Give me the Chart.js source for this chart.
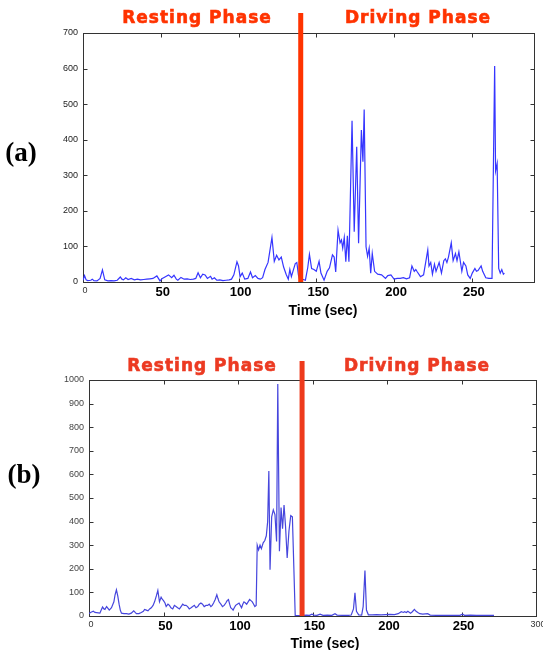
<!DOCTYPE html>
<html>
<head>
<meta charset="utf-8">
<script src="https://cdn.jsdelivr.net/npm/chart.js@4.4.1/dist/chart.umd.min.js"></script>
<style>
  html, body { margin: 0; padding: 0; background: #fff; }
  #page { position: relative; width: 543px; height: 650px; overflow: hidden; background: #fff; }
  .wrap { position: absolute; left: 0; width: 543px; height: 325px; }
  .txt { position: absolute; transform: translate(-50%, -50%); white-space: nowrap; line-height: 1; }
  .phase { font-family: "DejaVu Sans", sans-serif; font-weight: bold; font-size: 17px; letter-spacing: 1px; -webkit-text-stroke: 0.6px currentColor; }
  .panel { font-family: "Liberation Serif", "Times New Roman", serif; font-weight: bold; font-size: 27px; }
  .axt { font-family: "Liberation Sans", Arial, sans-serif; font-weight: bold; font-size: 14px; color: #000; }
</style>
</head>
<body>
<div id="page">
  <div class="wrap" style="top:0"><canvas id="chartA" width="543" height="325" style="width:543px;height:325px"></canvas></div>
  <div class="wrap" style="top:325px"><canvas id="chartB" width="543" height="325" style="width:543px;height:325px"></canvas></div>

  <div class="txt phase" style="left:197px; top:17px; color:#ff3300">Resting Phase</div>
  <div class="txt phase" style="left:418px; top:17px; color:#ff3300">Driving Phase</div>
  <div class="txt panel" style="left:21px; top:152px">(a)</div>
  <div class="txt axt" style="left:323px; top:310px">Time (sec)</div>

  <div class="txt phase" style="left:202px; top:365px; color:#ec3a22">Resting Phase</div>
  <div class="txt phase" style="left:417px; top:365px; color:#ec3a22">Driving Phase</div>
  <div class="txt panel" style="left:24px; top:474px">(b)</div>
  <div class="txt axt" style="left:325px; top:643px">Time (sec)</div>
</div>

<script>
// ---------- Data: panel (a) ----------
const topSeconds = [
  0, 1, 2, 3, 5, 6, 7, 9, 11, 12.5, 14, 16, 18, 20, 22, 24, 25, 26, 27.5, 29,
  31, 33, 35, 37, 39, 41, 43, 45, 47.5, 49.5, 51, 53, 55, 57, 58.5, 60, 61, 63, 65, 67,
  69, 71, 72.5, 74, 75.5, 77, 78.5, 80, 82, 83, 84.5, 86, 88, 90, 92, 94, 95.5, 97, 99, 100,
  101, 102.4, 104, 106, 107.7, 109, 110.8, 112.5, 114, 115.5, 117, 119, 121.5, 123, 124.5, 126, 127.5, 129, 130.6, 132,
  133, 134, 135, 136.5, 137.5, 138.5, 139.5, 141, 143, 144.5, 145.6, 147, 148.5, 150, 151.8, 153, 155, 157, 158.5, 160.4,
  161.5, 162.5, 164, 165.3, 166.2, 167, 168, 169, 170, 171, 173, 174.4, 176, 177.2, 179, 180, 180.8, 182, 183, 184,
  185, 186, 187.5, 189.5, 192, 194.5, 196, 198, 200, 202, 204, 206, 208, 210, 211.5, 213, 214, 215, 217, 219,
  221.7, 222.5, 223.6, 224.7, 226, 227, 229, 230.5, 232, 233, 234, 235, 236.8, 238, 239.5, 240.5, 241.7, 243.6, 244.7, 246.2,
  247.4, 249, 250.3, 252, 253, 254, 256, 257, 259, 261, 263, 264.7, 265.3, 266.3, 267.3, 268.3, 269.3, 270.3, 271
];
const topValues = [
  5, 18, 6, 4, 5, 8, 4, 3, 10, 34, 6, 3, 4, 3, 5, 14, 8, 6, 12, 7,
  10, 6, 8, 6, 7, 8, 9, 10, 17, 3, 10, 15, 20, 12, 19, 8, 5, 13, 8, 9,
  7, 8, 10, 26, 12, 22, 20, 10, 16, 8, 12, 5, 6, 4, 5, 6, 8, 20, 57, 45,
  15, 25, 8, 10, 28, 12, 18, 10, 8, 12, 35, 55, 125, 58, 75, 62, 70, 42, 22, 8,
  35, 15, 30, 52, 55, 20, 4, 8, 5, 40, 78, 38, 35, 30, 58, 25, 5, 30, 40, 76,
  70, 28, 146, 110, 118, 95, 125, 57, 130, 57, 453, 141, 380, 109, 427, 338, 485, 99, 72, 95,
  25, 80, 30, 22, 20, 10, 18, 20, 8, 10, 10, 12, 9, 12, 45, 30, 35, 28, 15, 20,
  90, 45, 55, 22, 50, 30, 55, 25, 60, 65, 55, 70, 110, 60, 80, 60, 85, 30, 55, 45,
  20, 10, 25, 38, 30, 32, 45, 30, 12, 10, 10, 607, 312, 333, 38, 25, 35, 22, 25
];

// ---------- Data: panel (b) ----------
const bottomSeconds = [
  0, 1, 2.9, 4, 5.1, 7.3, 8.2, 9.1, 10, 10.7, 11.8, 13, 13.6, 15.1, 16.7, 17.5, 18.4, 19.3, 20.2, 21,
  21.8, 23.5, 25.1, 26.8, 28.4, 30, 31, 31.8, 33.5, 35.1, 36.5, 37.3, 38.5, 39.6, 40.7, 41.8, 43, 44, 45.2, 46.2,
  47.3, 48.4, 49.3, 50, 51, 51.8, 53, 54, 55, 56.2, 57.3, 58.4, 59.5, 60.7, 61.8, 62.9, 64, 65.1, 66.2, 67.3,
  68.5, 69.6, 70.7, 71.8, 73, 74, 75.1, 76.2, 77.3, 78.5, 79.6, 80.7, 81.8, 82.7, 83.6, 84.7, 85.8, 86.5, 87.3, 88.5,
  89.6, 90.7, 91.8, 92.7, 93.6, 94.4, 95.1, 96, 96.7, 97.5, 98.4, 99.5, 100.7, 101.5, 102.4, 103.2, 104, 105, 105.8, 106.8,
  107.8, 108.7, 109.6, 110.5, 111.3, 112.2, 112.9, 113.8, 114.8, 115.7, 116.9, 118, 119, 119.9, 120.7, 121.5, 122.6, 123.7, 124.8, 125.9,
  126.7, 127.8, 128.9, 129.9, 130.9, 131.9, 133, 134.2, 135.4, 136.5, 137.5, 138.4, 140, 142, 144, 146, 148, 149.6, 151, 153,
  155.1, 157, 160, 163, 165.1, 166.5, 170, 174, 176, 177.5, 178.5, 179.5, 181, 183, 184, 185.2, 186.2, 187.5, 190, 193,
  196, 199, 202, 205, 207.5, 209.6, 211, 211.8, 213, 214, 215.8, 217, 218.4, 219.5, 220.7, 222, 224, 227.3, 229, 233,
  240, 245, 249, 250.7, 252, 256, 260, 265, 271.8
];
const bottomValues = [
  10, 15, 20, 15, 14, 12, 25, 38, 30, 28, 40, 30, 25, 35, 60, 90, 111, 85, 50, 25,
  12, 10, 10, 8, 12, 22, 15, 10, 10, 15, 20, 28, 25, 22, 30, 35, 45, 60, 85, 108,
  60, 80, 70, 65, 55, 40, 50, 45, 35, 30, 45, 40, 35, 30, 40, 50, 45, 45, 40, 30,
  35, 40, 45, 35, 40, 50, 55, 50, 40, 45, 45, 50, 40, 45, 55, 70, 90, 75, 60, 50,
  40, 45, 55, 65, 70, 50, 35, 30, 25, 35, 45, 50, 55, 45, 35, 50, 60, 55, 50, 60,
  70, 65, 60, 50, 40, 45, 300, 280, 300, 285, 310, 320, 340, 400, 614, 196, 420, 450, 430, 316,
  983, 274, 460, 370, 470, 380, 246, 360, 425, 420, 200, 2, 2, 2, 3, 4, 3, 8, 4, 3,
  8, 3, 4, 3, 10, 4, 3, 3, 4, 30, 98, 20, 5, 4, 40, 193, 25, 5, 5, 6,
  5, 6, 7, 6, 10, 18, 15, 18, 15, 20, 12, 18, 28, 20, 15, 10, 8, 10, 4, 3,
  3, 3, 3, 8, 3, 4, 3, 3, 3
];

// ---------- Axis ticks and phase boundaries ----------
const xTicksTop = [0, 50, 100, 150, 200, 250];
const yTicksTop = [0, 100, 200, 300, 400, 500, 600, 700];
const xTicksBottom = [0, 50, 100, 150, 200, 250, 300];
const yTicksBottom = [0, 100, 200, 300, 400, 500, 600, 700, 800, 900, 1000];
const phaseBoundaryTop = 140;
const phaseBoundaryBottom = 143;

const FONT = '"Liberation Sans", Arial, sans-serif';

const framePlugin = {
  id: 'frame',
  beforeDatasetsDraw(chart, args, opts) {
    const { ctx, chartArea: a, scales: { x, y } } = chart;
    const L = Math.round(a.left) + 0.5, R = Math.round(a.right) + 0.5;
    const T = Math.round(a.top) + 0.5, B = Math.round(a.bottom) + 0.5;
    ctx.save();
    ctx.strokeStyle = opts.color || '#333';
    ctx.lineWidth = 1;
    ctx.strokeRect(L, T, R - L, B - T);
    ctx.beginPath();
    const len = 4;
    x.ticks.forEach(t => {
      const px = Math.round(x.getPixelForValue(t.value)) + 0.5;
      if (px <= L + 1 || px >= R - 1) return;
      ctx.moveTo(px, B); ctx.lineTo(px, B - len);
      ctx.moveTo(px, T); ctx.lineTo(px, T + len);
    });
    y.ticks.forEach(t => {
      const py = Math.round(y.getPixelForValue(t.value)) + 0.5;
      if (py <= T + 1 || py >= B - 1) return;
      ctx.moveTo(L, py); ctx.lineTo(L + len, py);
      ctx.moveTo(R, py); ctx.lineTo(R - len, py);
    });
    ctx.stroke();
    ctx.restore();
  }
};

function makeChart(id, cfg) {
  const series = cfg.seconds.map((t, i) => ({ x: t, y: cfg.values[i] }));
  return new Chart(document.getElementById(id), {
    type: 'line',
    data: {
      datasets: [
        {
          label: 'phase',
          data: [{ x: cfg.boundary, y: 0 }, { x: cfg.boundary, y: cfg.boundaryTop }],
          borderColor: cfg.red,
          borderWidth: 5,
          pointRadius: 0,
          clip: false,
          order: 0
        },
        {
          label: 'signal',
          data: series,
          borderColor: cfg.blue,
          borderWidth: 1.2,
          pointRadius: 0,
          tension: 0,
          order: 1
        }
      ]
    },
    options: {
      responsive: false,
      animation: false,
      devicePixelRatio: 1,
      events: [],
      layout: { padding: cfg.padding },
      plugins: { legend: { display: false }, tooltip: { enabled: false }, frame: { color: '#333' } },
      scales: {
        x: {
          type: 'linear',
          min: 0,
          max: cfg.xMax,
          grid: { display: false, drawTicks: false, tickLength: 0 },
          border: { display: false },
          afterBuildTicks: s => { s.ticks = cfg.xTicks.map(v => ({ value: v })); },
          afterFit: s => { s.height = cfg.xHeight; s.paddingLeft = 0; s.paddingRight = 0; },
          ticks: {
            autoSkip: false,
            maxRotation: 0,
            padding: 3,
            labelOffset: 2,
            callback: v => String(v),
            color: c => (c.tick && (c.tick.value === 0 || c.tick.value === 300)) ? '#333' : '#000',
            font: c => (c.tick && (c.tick.value === 0 || c.tick.value === 300))
              ? { family: FONT, size: 9 }
              : { family: FONT, size: 13, weight: 'bold' }
          }
        },
        y: {
          type: 'linear',
          min: 0,
          max: cfg.yMax,
          grid: { display: false, drawTicks: false, tickLength: 0 },
          border: { display: false },
          afterBuildTicks: s => { s.ticks = cfg.yTicks.map(v => ({ value: v })); },
          afterFit: s => { s.width = cfg.yWidth; s.paddingTop = 0; s.paddingBottom = 0; },
          ticks: {
            autoSkip: false,
            padding: 5,
            callback: v => String(v),
            color: cfg.yColor,
            font: { family: FONT, size: 9 }
          }
        }
      }
    },
    plugins: [framePlugin]
  });
}

makeChart('chartA', {
  seconds: topSeconds, values: topValues,
  boundary: phaseBoundaryTop, boundaryTop: 756,
  red: '#ff3300', blue: '#3535ff',
  xMax: 290, yMax: 700, xTicks: xTicksTop, yTicks: yTicksTop,
  padding: { top: 33, right: 9, left: 0, bottom: 0 },
  xHeight: 43, yWidth: 83, yColor: '#222'
});

makeChart('chartB', {
  seconds: bottomSeconds, values: bottomValues,
  boundary: phaseBoundaryBottom, boundaryTop: 1080,
  red: '#ee3a1c', blue: '#4646dd',
  xMax: 300, yMax: 1000, xTicks: xTicksBottom, yTicks: yTicksBottom,
  padding: { top: 55, right: 7, left: 0, bottom: 0 },
  xHeight: 34, yWidth: 89, yColor: '#444'
});
</script>
</body>
</html>
